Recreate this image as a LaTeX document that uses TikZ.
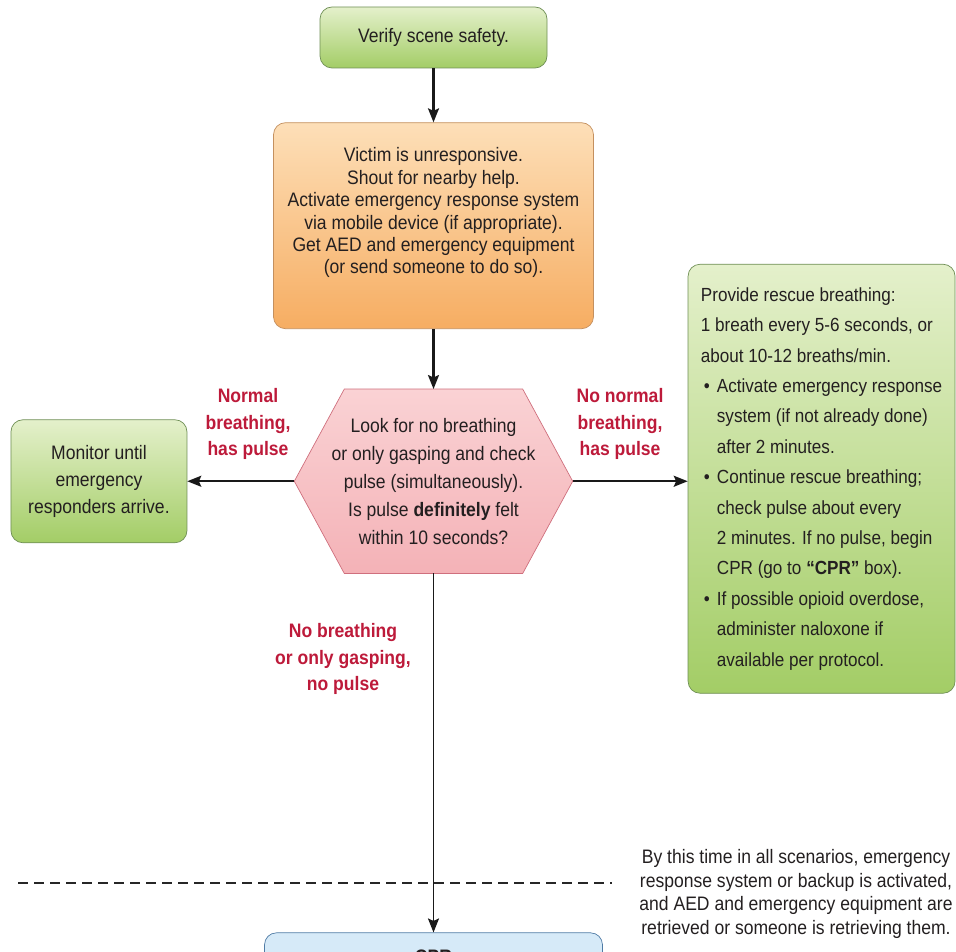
\documentclass[tikz,border=0pt]{standalone}
\usepackage{fontspec}
\setmainfont{Liberation Sans}[FakeStretch=0.9]
\usepackage{xcolor}
\usepackage{tikz}
\usetikzlibrary{arrows.meta,positioning,calc,backgrounds}
\definecolor{ink}{HTML}{231F20}
\definecolor{alarm}{HTML}{BD1A3A}
\definecolor{leaftop}{HTML}{E4F0CB}
\definecolor{leafbot}{HTML}{A3CD66}
\definecolor{leafline}{HTML}{6F8F55}
\definecolor{ambertop}{HTML}{FDDFB8}
\definecolor{amberbot}{HTML}{F6AD62}
\definecolor{amberline}{HTML}{C4905F}
\definecolor{rosetop}{HTML}{FAD2D4}
\definecolor{rosebot}{HTML}{F4B2B7}
\definecolor{roseline}{HTML}{CF6F7D}
\definecolor{skyfill}{HTML}{D6EAF8}
\definecolor{skyline}{HTML}{4F7BA5}
\newcommand{\itm}{\hspace*{3pt}\makebox[13pt][l]{\textbullet}}
\newcommand{\ind}{\hspace*{16pt}}
\newcommand{\toptext}[1]{\parbox[c][206pt][t]{320pt}{\centering\vspace*{25pt}#1}}

\begin{document}
\begin{tikzpicture}[x=1pt,y=-1pt,>={Stealth[length=14pt,width=11pt,inset=2.5pt]},text=ink]
\tikzset{gbox/.style={draw=leafline,line width=0.7pt,top color=leaftop,bottom color=leafbot,rounded corners=12pt,align=center,font=\fontsize{19.5}{27}\selectfont}, obox/.style={draw=amberline,line width=0.7pt,top color=ambertop,bottom color=amberbot,rounded corners=12pt,inner sep=0pt,font=\fontsize{19.5}{22.4}\selectfont}, hexnode/.style={minimum width=278pt,minimum height=184pt,align=center,font=\fontsize{19.5}{28}\selectfont}, hexfill/.style={draw=roseline,line width=0.7pt,top color=rosetop,bottom color=rosebot}, bbox/.style={draw=skyline,line width=0.7pt,fill=skyfill,rounded corners=12pt,minimum width=338pt,inner ysep=14pt,text height=17pt,text depth=100pt,font=\fontsize{19.5}{27}\selectfont\bfseries}, lbl/.style={text=alarm,align=center,font=\fontsize{19.5}{26.5}\selectfont\bfseries}, note/.style={align=center,font=\fontsize{19.5}{23.5}\selectfont}, arr/.style={->,draw=black!90,line width=2.3pt}, dashline/.style={draw=black!85,line width=2.2pt,dash pattern=on 10pt off 6pt}}
\useasboundingbox (0,0) rectangle (956,952);
\clip (0,0) rectangle (956,952);
\node[gbox,minimum width=227pt,minimum height=61pt] (safe) at (433.5,37.5) {Verify scene safety.};
\node[obox,below=54pt of safe] (alert) {\toptext{Victim is unresponsive.\\Shout for nearby help.\\Activate emergency response system\\via mobile device (if appropriate).\\Get AED and emergency equipment\\(or send someone to do so).}};
\node[hexnode,below=60pt of alert] (look) {Look for no breathing\\or only gasping and check\\pulse (simultaneously).\\Is pulse \textbf{definitely} felt\\within 10 seconds?};
\node[gbox,minimum width=176pt,minimum height=123pt,left=107pt of look] (monitor) {Monitor until\\emergency\\responders arrive.};
\node[gbox,minimum width=267pt,minimum height=429pt,align=left,font=\fontsize{19}{30.4}\selectfont,right=115pt of look,yshift=2.5pt] (rescue) {Provide rescue breathing:\\1 breath every 5-6 seconds, or\\about 10-12 breaths/min.\\\itm Activate emergency response\\\ind system (if not already done)\\\ind after 2 minutes.\\\itm Continue rescue breathing;\\\ind check pulse about every\\\ind 2 minutes. If no pulse, begin\\\ind CPR (go to \textbf{“CPR”} box).\\\itm If possible opioid overdose,\\\ind administer naloxone if\\\ind available per protocol.};
\node[bbox,below=359pt of look] (cpr) {CPR};
\node[lbl] (normal) at (248,424) {Normal\\breathing,\\has pulse};
\node[lbl] (abnormal) at (620,424) {No normal\\breathing,\\has pulse};
\node[lbl] (nopulse) at (343,659) {No breathing\\or only gasping,\\no pulse};
\node[note] (backup) at (796,894) {By this time in all scenarios, emergency\\response system or backup is activated,\\and AED and emergency equipment are\\retrieved or someone is retrieving them.};
\coordinate (dashl) at (18,883);
\coordinate (dashr) at (612,883);
\begin{scope}[on background layer]
\draw[hexfill] (look.west) -- ([xshift=50pt]look.north west) -- ([xshift=-50pt]look.north east) -- (look.east) -- ([xshift=-50pt]look.south east) -- ([xshift=50pt]look.south west) -- cycle;
\end{scope}
\draw[arr] (safe) -- (alert); \draw[arr] (alert) -- (look); \draw[arr] (look.west) -- (monitor.east); \draw[arr] (look.east) -- (look.east -| rescue.west);
\draw[dashline] (dashl) -- (dashr);
\draw[arr,line width=1.7pt] (look.south) -- (look.south |- cpr.north);
\end{tikzpicture}
\end{document}
